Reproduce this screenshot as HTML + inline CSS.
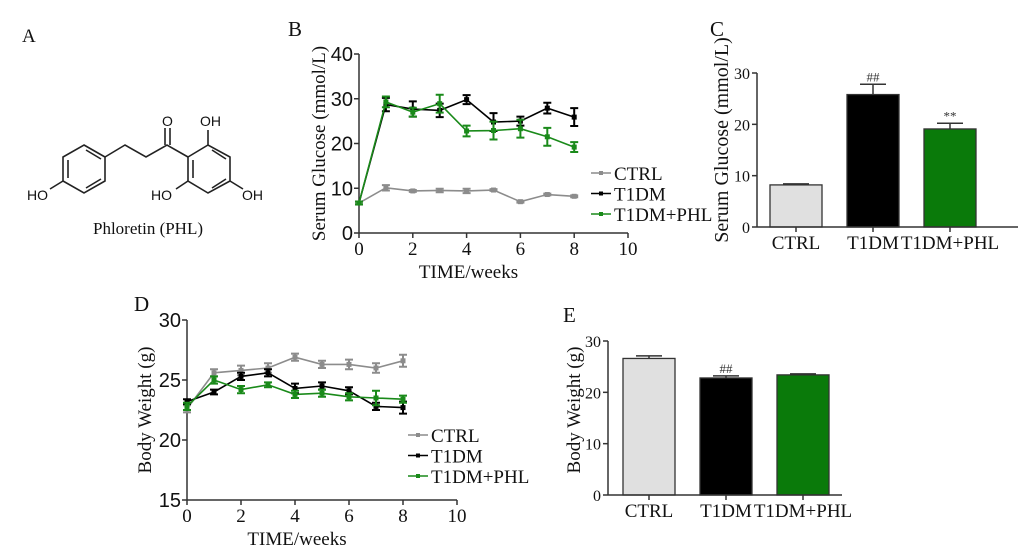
<!DOCTYPE html>
<html><head><meta charset="utf-8">
<style>
html,body{margin:0;padding:0;background:#fff;}
svg{display:block;}
.serif{font-family:"Liberation Serif",serif;}
.sans{font-family:"Liberation Sans",sans-serif;}
</style></head>
<body>
<svg id="fig" width="1020" height="555" viewBox="0 0 1020 555" xmlns="http://www.w3.org/2000/svg">
<g id="panelA" stroke="#222" stroke-width="1.6" fill="none">
<text x="22" y="42" class="serif" font-size="19" fill="#111" stroke="none">A</text>
<polygon points="84,145 105,157 105,181 84,193 63,181 63,157"/>
<line x1="68" y1="160" x2="68" y2="178"/><line x1="86" y1="150" x2="101" y2="159"/><line x1="86" y1="188" x2="101" y2="179"/>
<polyline points="105,157 125,145 146,157 167,145 188,157"/>
<line x1="165" y1="145" x2="165" y2="128"/><line x1="170" y1="145" x2="170" y2="128"/>
<polygon points="188,157 208,145 230,157 230,181 208,193 188,181"/>
<line x1="193" y1="160" x2="193" y2="178"/><line x1="212" y1="150" x2="226" y2="159"/><line x1="212" y1="188" x2="226" y2="179"/>
<line x1="63" y1="181" x2="50" y2="189"/><line x1="208" y1="145" x2="208" y2="130"/>
<line x1="188" y1="181" x2="176" y2="189"/><line x1="230" y1="181" x2="243" y2="189"/>
<g class="sans" font-size="14" fill="#111" stroke="none">
<text x="162" y="126">O</text><text x="200" y="126">OH</text>
<text x="27" y="200">HO</text><text x="151" y="200">HO</text><text x="242" y="200">OH</text>
</g>
<text x="148" y="234" text-anchor="middle" class="serif" font-size="17" fill="#111" stroke="none">Phloretin (PHL)</text>
</g>
<g id="gB"></g><g id="gC"></g><g id="gD"></g><g id="gE"></g>
</svg>
<script>
// Panel B data
const weeks=[0,1,2,3,4,5,6,7,8];
const bCtrl=[6.7,10.1,9.4,9.5,9.4,9.6,7.0,8.6,8.2];
const bCtrlErr=[0.3,0.6,0.2,0.4,0.5,0.2,0.2,0.2,0.2];
const bT1dm=[6.7,28.7,27.7,27.4,29.8,24.8,25.0,27.9,25.9];
const bT1dmErr=[0.3,1.5,1.7,1.5,1.0,2.0,1.0,1.2,2.0];
const bPhl=[6.7,29.3,27.0,28.9,22.8,22.9,23.3,21.5,19.2];
const bPhlErr=[0.3,1.2,1.0,2.0,1.2,2.0,2.0,2.0,1.1];
// Panel D data
const dCtrl=[22.6,25.6,25.8,26.0,26.9,26.3,26.3,26.0,26.6];
const dCtrlErr=[0.3,0.3,0.4,0.4,0.3,0.3,0.4,0.4,0.5];
const dT1dm=[23.2,24.0,25.3,25.6,24.3,24.5,24.1,22.8,22.7];
const dT1dmErr=[0.2,0.2,0.3,0.3,0.4,0.3,0.3,0.3,0.5];
const dPhl=[22.8,25.0,24.2,24.6,23.8,23.9,23.6,23.5,23.4];
const dPhlErr=[0.3,0.3,0.3,0.2,0.3,0.3,0.3,0.6,0.3];
// Bar panels
const groups=["CTRL","T1DM","T1DM+PHL"];
const cVals=[8.2,25.8,19.1];
const cErr=[0.2,2.0,1.1];
const cMarks=["","##","**"];
const eVals=[26.6,22.8,23.4];
const eErr=[0.5,0.4,0.2];
const eMarks=["","##",""];
const bYTicks=[0,10,20,30,40];
const dYTicks=[15,20,25,30];
const xTicks=[0,2,4,6,8,10];
const cYTicks=[0,10,20,30];
const eYTicks=[0,10,20,30];

const NS="http://www.w3.org/2000/svg";
function mk(parent,tag,attrs,text){const e=document.createElementNS(NS,tag);for(const k in attrs)e.setAttribute(k,attrs[k]);if(text!==undefined)e.textContent=text;parent.appendChild(e);return e;}

function linePanel(g,o){
  const sx=v=>o.x0+(v-0)/10*(o.x1-o.x0);
  const sy=v=>o.yb+(v-o.ymin)/(o.ymax-o.ymin)*(o.yt-o.yb);
  const ax=mk(g,'g',{stroke:'#333','stroke-width':1.5});
  
  
  mk(ax,'line',{x1:o.x0,y1:o.yt,x2:o.x0,y2:o.yb});
  mk(ax,'line',{x1:o.x0,y1:o.yb,x2:o.x1,y2:o.yb});
  o.yticks.forEach(t=>{mk(ax,'line',{x1:o.x0-5,x2:o.x0,y1:sy(t),y2:sy(t)});
    const tx=mk(g,'text',{x:o.x0-6,y:sy(t)+7,'text-anchor':'end','font-size':20,'class':'sans',fill:'#111'},t);
    
    });
  xTicks.forEach(t=>{mk(ax,'line',{x1:sx(t),x2:sx(t),y1:o.yb,y2:o.yb+5});
    const tx=mk(g,'text',{x:sx(t),y:o.yb+22,'text-anchor':'middle','font-size':19,'class':'serif',fill:'#111'},t);
    
    });
  const xt=mk(g,'text',{x:(o.x0+o.x1)/2-25,y:o.yb+45,'text-anchor':'middle','font-size':19,'class':'serif',fill:'#111'},'TIME/weeks');
  
  
  const yt=mk(g,'text',{x:0,y:0,'text-anchor':'middle','font-size':19,'class':'serif',fill:'#111',transform:`translate(${o.ytx},${(o.yt+o.yb)/2}) rotate(-90)`},o.ytitle);
  
  
  const lt=mk(g,'text',{x:o.lx,y:o.ly,'font-size':21,'class':'serif',fill:'#111'},o.letter);
  
  
  o.series.forEach((s,i)=>{
    const sg=mk(g,'g',{});
    
    
    mk(sg,'polyline',{points:weeks.map((w,j)=>sx(w)+','+sy(s.v[j])).join(' '),fill:'none',stroke:s.c,'stroke-width':1.6});
    weeks.forEach((w,j)=>{const x=sx(w),y1=sy(s.v[j]-s.e[j]),y2=sy(s.v[j]+s.e[j]);
      mk(sg,'path',{d:`M${x},${y1}V${y2}M${x-4},${y1}H${x+4}M${x-4},${y2}H${x+4}`,stroke:s.c,'stroke-width':2,fill:'none'});
      const p=mk(sg,'rect',{x:x-2.5,y:sy(s.v[j])-2.5,width:5,height:5,fill:s.c});
      
      });
    const ly=o.legY+i*o.legDy;
    const lg=mk(g,'g',{});
    
    
    mk(lg,'line',{x1:o.legX,x2:o.legX+20,y1:ly,y2:ly,stroke:s.c,'stroke-width':1.6});
    mk(lg,'rect',{x:o.legX+8,y:ly-2,width:4,height:4,fill:s.c});
    mk(lg,'text',{x:o.legX+23,y:ly+7,'font-size':19,'class':'serif',fill:'#111'},s.name);
  });
}
function barPanel(g,o){
  const sy=v=>o.yb+(v-0)/30*(o.yt-o.yb);
  const cols=['#e0e0e0','#000','#0a7a0a'];
  groups.forEach((n,i)=>{
    const x=o.bx0+i*o.step, y=sy(o.vals[i]);
    const bg=mk(g,'g',{});
    
    
    const ye=sy(o.vals[i]+o.err[i]);
    mk(bg,'path',{d:`M${x+o.bw/2},${y}V${ye}M${x+o.bw/2-13},${ye}H${x+o.bw/2+13}`,stroke:'#333','stroke-width':1.5,fill:'none'});
    mk(bg,'rect',{x:x,y:y,width:o.bw,height:o.yb-y,fill:cols[i],stroke:'#333','stroke-width':1.3});
    if(o.marks[i]){const m=mk(g,'text',{x:x+o.bw/2,y:ye-3,'text-anchor':'middle','font-size':13,'class':'serif',fill:'#333'},o.marks[i]);
      
      }
    const t=mk(g,'text',{x:x+o.bw/2,y:o.yb+22,'text-anchor':'middle','font-size':19,'class':'serif',fill:'#111'},n);
    
    
  });
  const ax=mk(g,'g',{stroke:'#333','stroke-width':1.5});
  
  
  mk(ax,'line',{x1:o.x0,y1:o.yt,x2:o.x0,y2:o.yb});
  mk(ax,'line',{x1:o.x0,y1:o.yb,x2:o.x1,y2:o.yb});
  groups.forEach((n,i)=>mk(ax,'line',{x1:o.bx0+i*o.step+o.bw/2,x2:o.bx0+i*o.step+o.bw/2,y1:o.yb,y2:o.yb+5}));
  o.yticks.forEach(t=>{mk(ax,'line',{x1:o.x0-5,x2:o.x0,y1:sy(t),y2:sy(t)});
    const tx=mk(g,'text',{x:o.x0-7,y:sy(t)+6,'text-anchor':'end','font-size':16,'class':'serif',fill:'#111'},t);
    
    });
  const yt=mk(g,'text',{x:0,y:0,'text-anchor':'middle','font-size':o.ytfs,'class':'serif',fill:'#111',transform:`translate(${o.ytx},${o.ytc}) rotate(-90)`},o.ytitle);
  
  
  const lt=mk(g,'text',{x:o.lx,y:o.ly,'font-size':21,'class':'serif',fill:'#111'},o.letter);
  
  
}
linePanel(document.getElementById('gB'),{x0:359,x1:628,yt:54,yb:233,ymin:0,ymax:40,yticks:bYTicks,ytitle:'Serum Glucose (mmol/L)',ytx:325,letter:'B',lx:288,ly:36,
  legX:591,legY:173,legDy:20.5,series:[{name:'CTRL',v:bCtrl,e:bCtrlErr,c:'#8c8c8c'},{name:'T1DM',v:bT1dm,e:bT1dmErr,c:'#000'},{name:'T1DM+PHL',v:bPhl,e:bPhlErr,c:'#1a8a1a'}]});
linePanel(document.getElementById('gD'),{x0:187,x1:457,yt:320,yb:500,ymin:15,ymax:30,yticks:dYTicks,ytitle:'Body Weight (g)',ytx:151,letter:'D',lx:134,ly:311,
  legX:408,legY:435,legDy:20.5,series:[{name:'CTRL',v:dCtrl,e:dCtrlErr,c:'#8c8c8c'},{name:'T1DM',v:dT1dm,e:dT1dmErr,c:'#000'},{name:'T1DM+PHL',v:dPhl,e:dPhlErr,c:'#1a8a1a'}]});
barPanel(document.getElementById('gC'),{x0:757,x1:1018,yt:73,yb:227,bx0:770,bw:52,step:77,vals:cVals,err:cErr,marks:cMarks,yticks:cYTicks,ytitle:'Serum Glucose (mmol/L)',ytfs:20,ytx:728,ytc:140,letter:'C',lx:710,ly:36});
barPanel(document.getElementById('gE'),{x0:608,x1:842,yt:341,yb:495,bx0:623,bw:52,step:77,vals:eVals,err:eErr,marks:eMarks,yticks:eYTicks,ytitle:'Body Weight (g)',ytfs:19,ytx:580,ytc:410,letter:'E',lx:563,ly:322});
</script>
</body></html>
